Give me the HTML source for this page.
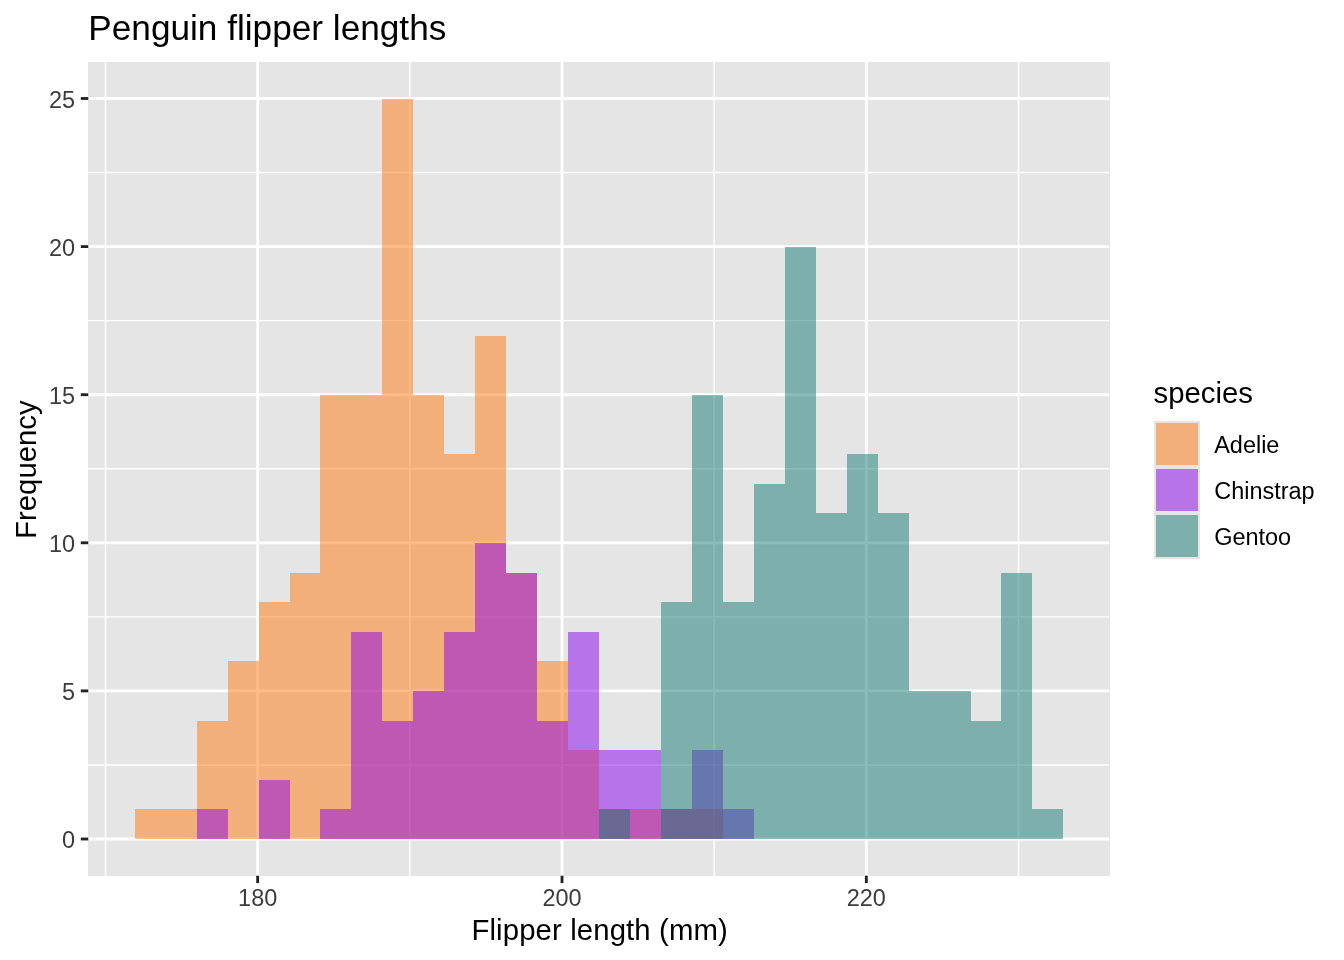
<!DOCTYPE html>
<html lang="en"><head><meta charset="utf-8"><title>Penguin flipper lengths</title>
<style>
html,body{margin:0;padding:0;background:#fff;}
body{width:1344px;height:960px;overflow:hidden;}
svg{display:block;}
text{font-family:"Liberation Sans",Arial,Helvetica,sans-serif;}
.ax{font-size:23.47px;fill:#3c3c3c;}
.lb{font-size:23.47px;fill:#000;}
.tt{font-size:29.33px;fill:#000;}
.ti{font-size:35.2px;fill:#000;}
</style></head><body>
<svg width="1344" height="960" viewBox="0 0 1344 960">
<rect x="0" y="0" width="1344" height="960" fill="#ffffff"/>
<!-- panel background -->
<rect x="88" y="62" width="1022" height="814" fill="#e5e5e5"/>
<!-- minor grid -->
<g stroke="#ffffff" stroke-width="1.42" fill="none">
<line x1="88" x2="1109.2" y1="764.95" y2="764.95"/>
<line x1="88" x2="1109.2" y1="616.85" y2="616.85"/>
<line x1="88" x2="1109.2" y1="468.75" y2="468.75"/>
<line x1="88" x2="1109.2" y1="320.65" y2="320.65"/>
<line x1="88" x2="1109.2" y1="172.55" y2="172.55"/>
<line y1="62" y2="876" x1="105.50" x2="105.50"/>
<line y1="62" y2="876" x1="409.84" x2="409.84"/>
<line y1="62" y2="876" x1="714.18" x2="714.18"/>
<line y1="62" y2="876" x1="1018.52" x2="1018.52"/>
</g>
<!-- major grid -->
<g stroke="#ffffff" stroke-width="2.85" fill="none">
<line x1="88" x2="1109.2" y1="839.00" y2="839.00"/>
<line x1="88" x2="1109.2" y1="690.90" y2="690.90"/>
<line x1="88" x2="1109.2" y1="542.80" y2="542.80"/>
<line x1="88" x2="1109.2" y1="394.70" y2="394.70"/>
<line x1="88" x2="1109.2" y1="246.60" y2="246.60"/>
<line x1="88" x2="1109.2" y1="98.50" y2="98.50"/>
<line y1="62" y2="876" x1="257.67" x2="257.67"/>
<line y1="62" y2="876" x1="562.01" x2="562.01"/>
<line y1="62" y2="876" x1="866.35" x2="866.35"/>
</g>
<!-- Adelie -->
<g fill="#ff790d" fill-opacity="0.5" shape-rendering="crispEdges">
<rect x="135" y="809" width="31" height="30"/>
<rect x="166" y="809" width="31" height="30"/>
<rect x="197" y="721" width="31" height="118"/>
<rect x="228" y="661" width="31" height="178"/>
<rect x="259" y="602" width="31" height="237"/>
<rect x="290" y="573" width="30" height="266"/>
<rect x="320" y="395" width="31" height="444"/>
<rect x="351" y="395" width="31" height="444"/>
<rect x="382" y="99" width="31" height="740"/>
<rect x="413" y="395" width="31" height="444"/>
<rect x="444" y="454" width="31" height="385"/>
<rect x="475" y="336" width="31" height="503"/>
<rect x="506" y="573" width="31" height="266"/>
<rect x="537" y="661" width="31" height="178"/>
<rect x="568" y="750" width="31" height="89"/>
<rect x="599" y="809" width="31" height="30"/>
<rect x="630" y="809" width="31" height="30"/>
<rect x="661" y="809" width="31" height="30"/>
<rect x="692" y="809" width="31" height="30"/>
</g>
<!-- Chinstrap -->
<g fill="#8901eb" fill-opacity="0.5" shape-rendering="crispEdges">
<rect x="197" y="809" width="31" height="30"/>
<rect x="259" y="780" width="31" height="59"/>
<rect x="320" y="809" width="31" height="30"/>
<rect x="351" y="632" width="31" height="207"/>
<rect x="382" y="721" width="31" height="118"/>
<rect x="413" y="691" width="31" height="148"/>
<rect x="444" y="632" width="31" height="207"/>
<rect x="475" y="543" width="31" height="296"/>
<rect x="506" y="573" width="31" height="266"/>
<rect x="537" y="721" width="31" height="118"/>
<rect x="568" y="632" width="31" height="207"/>
<rect x="599" y="750" width="31" height="89"/>
<rect x="630" y="750" width="31" height="89"/>
<rect x="661" y="809" width="31" height="30"/>
<rect x="692" y="750" width="31" height="89"/>
<rect x="723" y="809" width="31" height="30"/>
</g>
<!-- Gentoo -->
<g fill="#157973" fill-opacity="0.5" shape-rendering="crispEdges">
<rect x="599" y="809" width="31" height="30"/>
<rect x="661" y="602" width="31" height="237"/>
<rect x="692" y="395" width="31" height="444"/>
<rect x="723" y="602" width="31" height="237"/>
<rect x="754" y="484" width="31" height="355"/>
<rect x="785" y="247" width="31" height="592"/>
<rect x="816" y="513" width="31" height="326"/>
<rect x="847" y="454" width="31" height="385"/>
<rect x="878" y="513" width="31" height="326"/>
<rect x="909" y="691" width="31" height="148"/>
<rect x="940" y="691" width="31" height="148"/>
<rect x="971" y="721" width="30" height="118"/>
<rect x="1001" y="573" width="31" height="266"/>
<rect x="1032" y="809" width="31" height="30"/>
</g>
<!-- axis ticks -->
<g stroke="#222222" stroke-width="2.85" fill="none">
<line x1="80.80" x2="88.3" y1="839.00" y2="839.00"/>
<line x1="80.80" x2="88.3" y1="690.90" y2="690.90"/>
<line x1="80.80" x2="88.3" y1="542.80" y2="542.80"/>
<line x1="80.80" x2="88.3" y1="394.70" y2="394.70"/>
<line x1="80.80" x2="88.3" y1="246.60" y2="246.60"/>
<line x1="80.80" x2="88.3" y1="98.50" y2="98.50"/>
<line y1="875.7" y2="883.10" x1="257.67" x2="257.67"/>
<line y1="875.7" y2="883.10" x1="562.01" x2="562.01"/>
<line y1="875.7" y2="883.10" x1="866.35" x2="866.35"/>
</g>
<!-- axis labels -->
<text class="ax" text-anchor="end" x="75.1" y="848.20">0</text>
<text class="ax" text-anchor="end" x="75.1" y="700.10">5</text>
<text class="ax" text-anchor="end" x="75.1" y="552.00">10</text>
<text class="ax" text-anchor="end" x="75.1" y="403.90">15</text>
<text class="ax" text-anchor="end" x="75.1" y="255.80">20</text>
<text class="ax" text-anchor="end" x="75.1" y="107.70">25</text>
<text class="ax" text-anchor="middle" x="257.67" y="905.8">180</text>
<text class="ax" text-anchor="middle" x="562.01" y="905.8">200</text>
<text class="ax" text-anchor="middle" x="866.35" y="905.8">220</text>
<!-- titles -->
<text class="ti" x="88.3" y="39.9">Penguin flipper lengths</text>
<text class="tt" text-anchor="middle" x="599.6" y="940.0" textLength="256.3">Flipper length (mm)</text>
<text class="tt" text-anchor="middle" transform="translate(36.3 469.6) rotate(-90)">Frequency</text>
<!-- legend -->
<text class="tt" x="1153.5" y="402.8">species</text>
<rect x="1154" y="421" width="46" height="138" fill="#e5e5e5"/>
<rect x="1156" y="423" width="42" height="42" fill="#ff790d" fill-opacity="0.5" shape-rendering="crispEdges"/>
<text class="lb" x="1214.2" y="452.84">Adelie</text>
<rect x="1156" y="469" width="42" height="42" fill="#8901eb" fill-opacity="0.5" shape-rendering="crispEdges"/>
<text class="lb" x="1214.2" y="498.92">Chinstrap</text>
<rect x="1156" y="515" width="42" height="42" fill="#157973" fill-opacity="0.5" shape-rendering="crispEdges"/>
<text class="lb" x="1214.2" y="545.00">Gentoo</text>
</svg></body></html>
